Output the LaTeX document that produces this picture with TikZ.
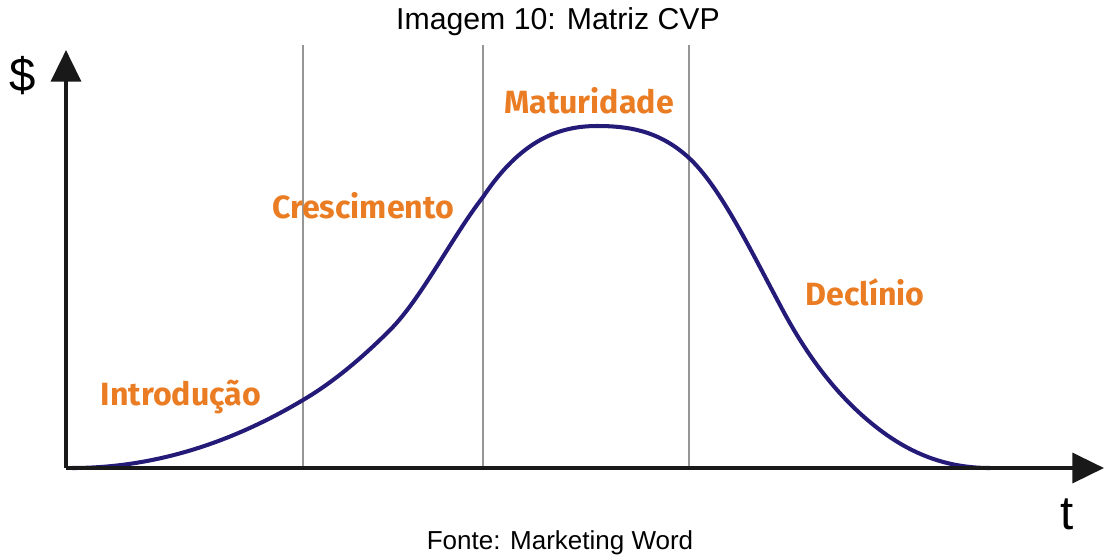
\documentclass[tikz,border=0pt]{standalone}
\usepackage{fontspec}
\setmainfont{Liberation Sans}
\newfontfamily\phasefont{Fira Sans}
\usepackage{xcolor}
\usetikzlibrary{
    arrows.meta,
    calc,
    positioning
}
\definecolor{phaseorange}{RGB}{234,125,36}
\definecolor{curveblue}{RGB}{36,26,120}
\definecolor{dividergray}{RGB}{150,150,150}

\begin{document}
\begin{tikzpicture}[x=0.02cm, y=-0.02cm,
        axis/.style={line width=2.2pt, draw=black!90, -{Triangle[length=18pt, width=17pt]}},
        divider/.style={line width=0.9pt, dividergray},
        lifecurve/.style={line width=2.3pt, curveblue, line cap=round},
        phase/.style={anchor=base, phaseorange, font=\phasefont\bfseries\fontsize{18.3}{22}\selectfont, inner sep=0pt}
    ]
    \useasboundingbox (0, 0) rectangle (1105, 559);

    \node[font=\fontsize{17.2}{20}\selectfont, inner sep=0pt] (title) at (558, 22) {Imagem 10: Matriz CVP};
    \node[font=\fontsize{14.8}{18}\selectfont, inner sep=0pt] (source) at (560, 543) {Fonte: Marketing Word};

    \coordinate (o) at (66, 468);
    \coordinate (ytip) at (66, 50);
    \coordinate (xtip) at (1104, 468);

    % phase borders
    \coordinate (b1top) at (303, 45);
    \coordinate (b2top) at (483, 45);
    \coordinate (b3top) at (689, 45);
    \draw[divider] (b1top) -- (b1top |- o);
    \draw[divider] (b2top) -- (b2top |- o);
    \draw[divider] (b3top) -- (b3top |- o);

    % sales curve
    \draw[lifecurve] (72, 468)
        .. controls (149, 468) and (226, 446) .. (303, 400)
        .. controls (332, 383) and (361, 359) .. (390, 330)
        .. controls (421, 299) and (452, 237) .. (483, 197)
        .. controls (521, 140) and (559, 126) .. (597, 126)
        .. controls (627, 126) and (658, 130) .. (688, 157)
        .. controls (719, 185) and (749, 247) .. (780, 305)
        .. controls (813, 368) and (847, 405) .. (880, 430)
        .. controls (917, 458) and (953, 468) .. (990, 468);

    \draw[axis] (o) -- (ytip);
    \draw[axis] (o) -- (xtip);

    \node[font=\fontsize{27}{30}\selectfont, inner sep=0pt] (ylabel) at (23, 76) {\$};
    \node[font=\fontsize{27}{30}\selectfont, inner sep=0pt] (xlabel) at (1067, 514) {t};

    \node[phase] (intro) at (181, 405) {Introdução};
    \node[phase] (growth) at (363, 218) {Crescimento};
    \node[phase] (mature) at (589, 113) {Maturidade};
    \node[phase] (decline) at (865, 305) {Declínio};
\end{tikzpicture}
\end{document}
